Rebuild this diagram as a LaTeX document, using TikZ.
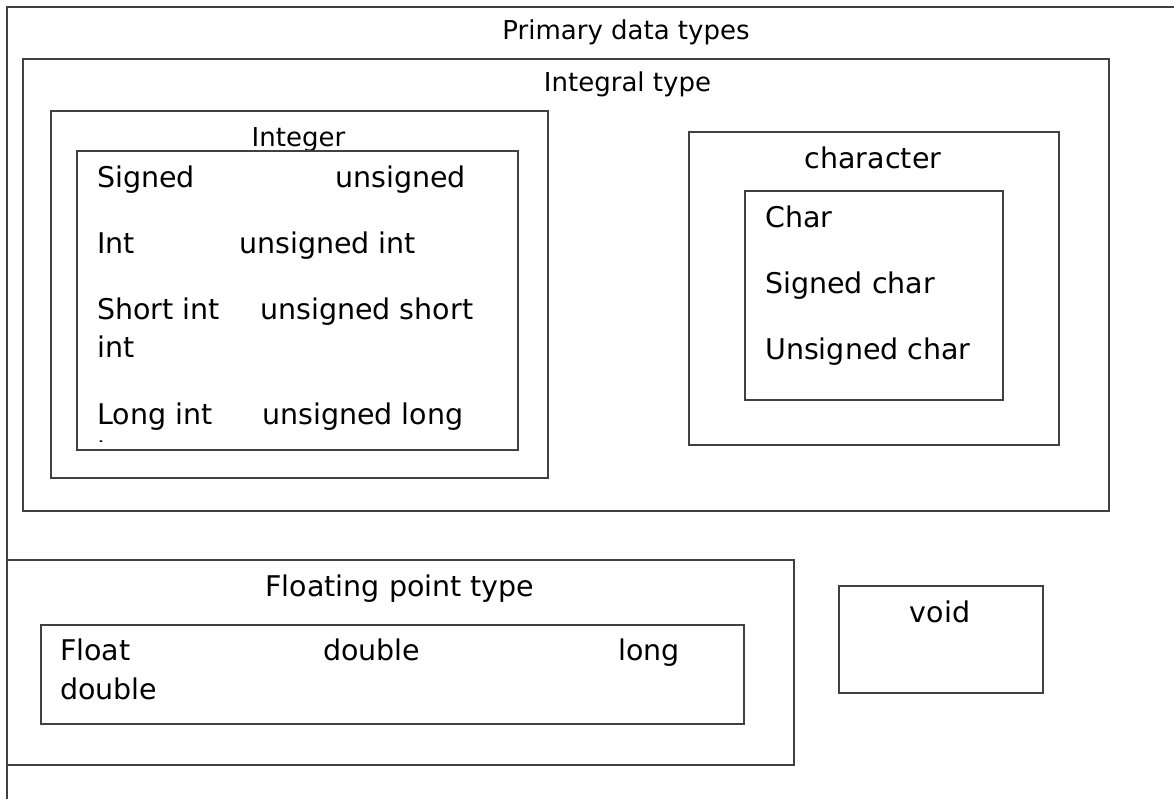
\documentclass[tikz,border=0pt]{standalone}
\usepackage{fontspec}
\setmainfont{DejaVu Sans}
\begin{document}
\begin{tikzpicture}[x=1pt,y=-1pt,
  frame/.style={draw=black!75, line width=1.5pt, inner sep=0pt, anchor=north west},
  item/.style={inner sep=0pt, anchor=base west, font=\fontsize{28.5}{34}\selectfont},
  heading/.style={inner sep=0pt, anchor=base, font=\fontsize{28.5}{34}\selectfont},
  subheading/.style={inner sep=0pt, anchor=base, font=\fontsize{26}{31}\selectfont}]

% page area
\fill[white] (0,0) rectangle (1174,798);
\clip (0,0) rectangle (1174,798);

% outermost frame (runs past the page edge)
\node[frame, minimum width=1300pt, minimum height=900pt] (primary) at (6,6) {};
\node[subheading] (primarylbl) at (626,39) {Primary data types};

% integral types
\node[frame, minimum width=1086pt, minimum height=452pt] (integral) at (22,58) {};
\node[subheading] (integrallbl) at (627.5,91) {Integral type};

% integer family
\node[frame, minimum width=497pt, minimum height=367pt] (integer) at (50,110) {};
\node[subheading] (integerlbl) at (298.5,146) {Integer};
\node[frame, minimum width=441pt, minimum height=299pt] (intlist) at (76,150) {};
\node[item] (signed)   at (97,187)  {Signed};
\node[item] (unsigned) at (335,187) {unsigned};
\node[item] (int)      at (97,253)  {Int};
\node[item] (uint)     at (239,253) {unsigned int};
\node[item] (short)    at (97,319)  {Short int};
\node[item] (ushort)   at (260,319) {unsigned short};
\node[item] (shortb)   at (97,357)  {int};
\node[item] (long)     at (97,424)  {Long int};
\node[item] (ulong)    at (262,424) {unsigned long};
% the wrapped last word is cut off by the list frame
\begin{scope}
  \clip (76,150) rectangle (517,441.3);
  \node[item] (longb) at (97,462) {int};
\end{scope}

% character family
\node[frame, minimum width=370pt, minimum height=313pt] (character) at (688,131) {};
\node[heading] (characterlbl) at (873,168) {character};
\node[frame, minimum width=258pt, minimum height=209pt] (charlist) at (744,190) {};
\node[item] (char)  at (765,227) {Char};
\node[item] (schar) at (765,293) {Signed char};
\node[item] (uchar) at (765,359) {Unsigned char};

% floating point types
\node[frame, minimum width=787pt, minimum height=205pt] (floating) at (6,559) {};
\node[heading] (floatinglbl) at (400,596) {Floating point type};
\node[frame, minimum width=703pt, minimum height=99pt] (floatlist) at (40,624) {};
\node[item] (float)   at (60,660)  {Float};
\node[item] (double)  at (323,660) {double};
\node[item] (ldouble) at (618,660) {long};
\node[item] (ldoubleb) at (60,699) {double};

% void
\node[frame, minimum width=204pt, minimum height=107pt] (void) at (838,585) {};
\node[heading] (voidlbl) at (940,622) {void};

\end{tikzpicture}
\end{document}
